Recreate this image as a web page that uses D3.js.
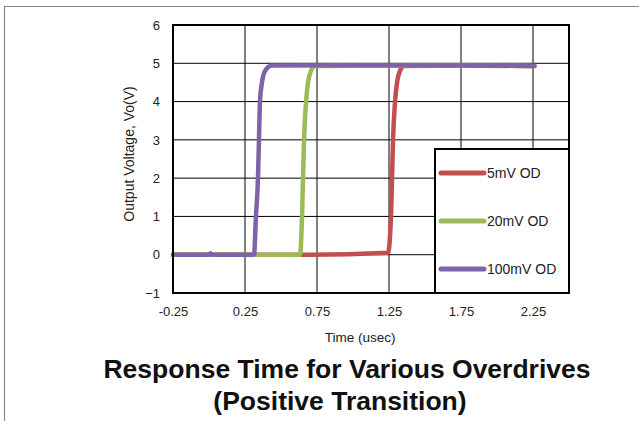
<!DOCTYPE html>
<html>
<head>
<meta charset="utf-8">
<script src="https://cdn.jsdelivr.net/npm/d3@7"></script>
<style>
  body { margin: 0; background: #fff; }
  text { font-family: "Liberation Sans", Arial, sans-serif; }
</style>
</head>
<body>
<script>
// data
const xTicks = [-0.25, 0.25, 0.75, 1.25, 1.75, 2.25];
const yTicks = [-1, 0, 1, 2, 3, 4, 5, 6];

const t100 = [-0.25, 0.0, 0.01, 0.02, 0.3125, 0.326, 0.34, 0.347, 0.354, 0.368, 0.389, 0.4375, 1.0, 1.75, 2.26];
const v100 = [0, 0, 0.04, 0, 0, 1.0, 2.0, 3.0, 4.0, 4.5, 4.8, 4.94, 4.95, 4.94, 4.93];

const t20 = [-0.25, 0.632, 0.646, 0.653, 0.66, 0.674, 0.6875, 0.708, 0.736, 1.5, 2.26];
const v20 = [0, 0, 1.0, 2.0, 3.0, 4.0, 4.5, 4.8, 4.93, 4.94, 4.93];

const t5 = [-0.25, 0.7, 1.243, 1.264, 1.271, 1.278, 1.292, 1.306, 1.326, 1.354, 1.8, 2.26];
const v5 = [0, 0, 0.05, 1.0, 2.0, 3.0, 4.0, 4.5, 4.8, 4.93, 4.94, 4.93];

const seriesNames = ['5mV OD', '20mV OD', '100mV OD'];
const seriesColors = ['#c0504d', '#9bbb59', '#7f63a8'];

const W = 639, H = 421;
const margin = { top: 25, right: 70, bottom: 128, left: 173 };
const w = W - margin.left - margin.right;
const h = H - margin.top - margin.bottom;

const svg = d3.select('body').append('svg')
  .attr('width', W).attr('height', H);

// outer frame (top and left edge only)
svg.append('path')
  .attr('d', 'M4.5,' + H + 'V6.5H' + W)
  .attr('fill', 'none').attr('stroke', '#888').attr('stroke-width', 1.2);

const g = svg.append('g')
  .attr('transform', 'translate(' + margin.left + ',' + margin.top + ')');

const x = d3.scaleLinear().domain([-0.25, 2.5]).range([0, w]);
const y = d3.scaleLinear().domain([-1, 6]).range([h, 0]);

// grid
g.append('g').selectAll('line').data(yTicks).enter().append('line')
  .attr('x1', 0).attr('x2', w)
  .attr('y1', d => y(d)).attr('y2', d => y(d))
  .attr('stroke', '#000').attr('stroke-width', 1);
g.append('g').selectAll('line').data(xTicks.slice(1)).enter().append('line')
  .attr('x1', d => x(d)).attr('x2', d => x(d))
  .attr('y1', 0).attr('y2', h)
  .attr('stroke', '#000').attr('stroke-width', 1);

// axes (labels only)
const xAxis = g.append('g').attr('transform', 'translate(0,' + h + ')')
  .call(d3.axisBottom(x).tickValues(xTicks).tickSize(0).tickPadding(14)
    .tickFormat(d => d.toFixed(2)));
const yAxis = g.append('g')
  .call(d3.axisLeft(y).tickValues(yTicks).tickSize(0).tickPadding(13)
    .tickFormat(d => d < 0 ? '\u2212' + Math.abs(d) : d));
[xAxis, yAxis].forEach(a => {
  a.select('.domain').remove();
  a.selectAll('text').style('font-size', '13px').attr('fill', '#222')
    .style('font-family', '"Liberation Sans", Arial, sans-serif');
});

// series
const series = [
  { t: t5, v: v5 },
  { t: t20, v: v20 },
  { t: t100, v: v100 }
];
const line = d3.line()
  .x(d => x(d[0])).y(d => y(d[1]))
  .curve(d3.curveMonotoneX);
series.forEach((s, i) => {
  g.append('path')
    .datum(s.t.map((tt, j) => [tt, s.v[j]]))
    .attr('d', line)
    .attr('fill', 'none')
    .attr('stroke', seriesColors[i])
    .attr('stroke-width', 4.5)
    .attr('stroke-linejoin', 'round')
    .attr('stroke-linecap', 'round');
});

// plot frame
g.append('rect').attr('width', w).attr('height', h)
  .attr('fill', 'none').attr('stroke', '#000').attr('stroke-width', 2);

// legend
const lx = 262, ly = 124;
const leg = g.append('g').attr('transform', 'translate(' + lx + ',' + ly + ')');
leg.append('rect').attr('width', w - lx).attr('height', h - ly)
  .attr('fill', '#fff').attr('stroke', '#000').attr('stroke-width', 2);
seriesNames.forEach((n, i) => {
  const yy = 24 + i * 48;
  leg.append('line').attr('x1', 6).attr('x2', 49).attr('y1', yy).attr('y2', yy)
    .attr('stroke', seriesColors[i]).attr('stroke-width', 5)
    .attr('stroke-linecap', 'round');
  leg.append('text').attr('x', 52).attr('y', yy + 5)
    .style('font-size', '14px').attr('fill', '#222').text(n);
});

// axis titles
svg.append('text')
  .attr('transform', 'translate(134,' + (margin.top + h / 2 - 5) + ') rotate(-90)')
  .attr('text-anchor', 'middle').style('font-size', '14px').attr('fill', '#222')
  .text('Output Voltage, Vo(V)');
svg.append('text')
  .attr('x', margin.left + x(1.05)).attr('y', 342)
  .attr('text-anchor', 'middle').style('font-size', '13.5px').attr('fill', '#222')
  .text('Time (usec)');

// title
const title = ['Response Time for Various Overdrives', '(Positive Transition)'];
svg.selectAll('.title').data(title).enter().append('text')
  .attr('class', 'title')
  .attr('x', (d, i) => i === 0 ? 347 : 340).attr('y', (d, i) => 378 + i * 32)
  .attr('text-anchor', 'middle')
  .style('font-size', '26.5px').style('font-weight', 'bold').attr('fill', '#111')
  .text(d => d);
</script>
</body>
</html>
